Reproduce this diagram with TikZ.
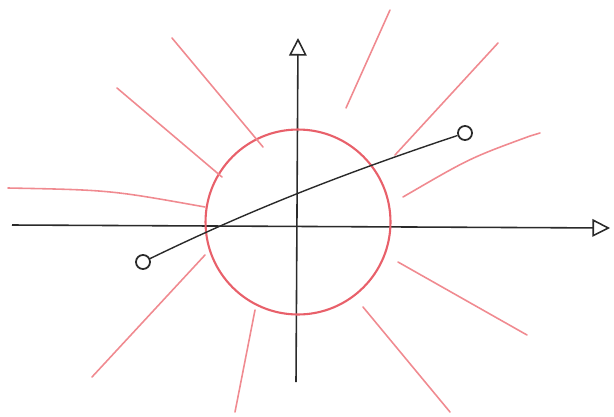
\documentclass[tikz,border=0pt]{standalone}
\usepackage{tikz}
\usetikzlibrary{arrows.meta, positioning}
\definecolor{sketchred}{HTML}{e8606a}
\definecolor{lightred}{HTML}{f08a90}
\definecolor{pencil}{HTML}{2a2a2a}

\begin{document}
\begin{tikzpicture}[x=0.02cm, y=-0.02cm,
		axis/.style={draw=pencil, line width=0.9pt, -{Triangle[open, length=10pt, width=10pt]}},
		ray/.style={draw=lightred, line width=0.9pt, line cap=round},
		orbit/.style={draw=pencil, line width=0.8pt},
		endpt/.style={circle, draw=pencil, line width=1pt, inner sep=0pt, minimum size=8pt}]
	\useasboundingbox (0,0) rectangle (614,416);
	% axes
	\coordinate (xstart) at (12,225);
	\coordinate (xend) at (610,228);
	\coordinate (ystart) at (296,382);
	\coordinate (yend) at (298,38);
	\draw[axis] (xstart) -- (xend);
	\draw[axis] (ystart) -- (yend);
	% red circle
	\node[circle, draw=sketchred, line width=1.2pt, minimum size=3.7cm, inner sep=0pt] (ring) at (298,222) {};
	% rays
	\draw[ray] (172,38) -- (263,147);
	\draw[ray] (117,88) -- (222,177);
	\draw[ray] (8,188) .. controls (110,190) .. (205,207);
	\draw[ray] (390,10) -- (346,108);
	\draw[ray] (498,43) -- (395,155);
	\draw[ray] (540,133) -- (530,136) .. controls (470,158) .. (403,197);
	\draw[ray] (398,262) -- (527,335);
	\draw[ray] (363,307) -- (450,412);
	\draw[ray] (255,310) -- (235,412);
	\draw[ray] (205,255) -- (92,377);
	% trajectory
	\node[endpt] (start) at (143,262) {};
	\node[endpt] (stop) at (465,133) {};
	\draw[orbit] (start) .. controls (240,215) and (330,178) .. (stop);
\end{tikzpicture}
\end{document}
